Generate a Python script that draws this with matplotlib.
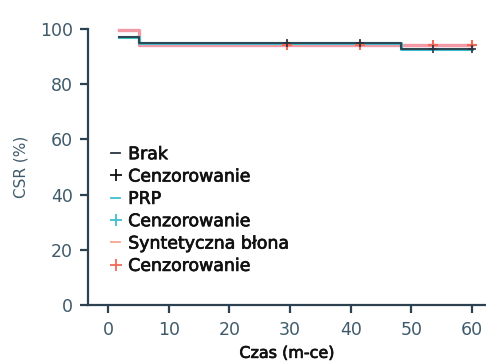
import numpy as np
import matplotlib
matplotlib.use('Agg')
import matplotlib.pyplot as plt
import matplotlib.patheffects as pe
from matplotlib.lines import Line2D

# step curves (time in months, CSR %)
brak_t = [1.8, 5.1, 48.3, 60.0]
brak_y = [97.0, 95.0, 92.8, 92.8]
prp_t = [1.8, 5.1, 48.3, 60.0]
prp_y = [97.0, 95.0, 92.8, 92.8]
syn_t = [1.8, 5.1, 60.0]
syn_y = [99.5, 94.3, 94.3]

brak_cens_t = [29.5, 41.5, 53.5, 60.0]
brak_cens_y = [95.0, 95.0, 92.8, 92.8]
syn_cens_t = [29.5, 41.5, 53.5, 60.0]
syn_cens_y = [94.3, 94.3, 94.3, 94.3]

labels = ['Brak', 'Cenzorowanie', 'PRP', 'Cenzorowanie',
          'Syntetyczna błona', 'Cenzorowanie']

axis_col = '#2d4150'
tick_col = '#3f5b6b'
black_col = '#2a3440'
teal_col = '#3fbfcf'
pink_col = '#f39aa6'
red_col = '#f26a55'


def main():
    fig = plt.figure(figsize=(4.86, 3.63), dpi=100)
    ax = fig.add_axes([0.181, 0.16, 0.819, 0.76])

    ax.step(syn_t, syn_y, where='post', color=pink_col, lw=2.4, clip_on=False)
    ax.step(prp_t, prp_y, where='post', color=teal_col, lw=2.2, clip_on=False)
    ax.step(brak_t, brak_y, where='post', color=black_col, lw=1.5, alpha=0.85,
            clip_on=False)
    ax.plot(syn_cens_t, syn_cens_y, '+', color=red_col, ms=7, mew=1.5, clip_on=False)
    ax.plot(brak_cens_t, brak_cens_y, '+', color=black_col, ms=6, mew=1.2, clip_on=False)

    ax.set_xlim(-3.3, 62.3)
    ax.set_ylim(0, 100)
    ax.set_xticks(np.arange(0, 61, 10))
    ax.set_yticks(np.arange(0, 101, 20))

    for s in ['top', 'right']:
        ax.spines[s].set_visible(False)
    for s in ['left', 'bottom']:
        ax.spines[s].set_color(axis_col)
        ax.spines[s].set_linewidth(1.6)
    ax.tick_params(colors=axis_col, labelcolor=tick_col, labelsize=12.5,
                   width=1.6, length=5.5)
    ax.tick_params(axis='y', pad=5.5)
    ax.tick_params(axis='x', pad=6)

    ax.set_ylabel('CSR (%)', color=tick_col, fontsize=11, labelpad=8)
    ax.set_xlabel('Czas (m-ce)', color='#111111', fontsize=11.5, labelpad=5,
                  path_effects=[pe.withStroke(linewidth=0.5, foreground='#111111')])

    handles = [
        Line2D([], [], color=black_col, lw=1.3),
        Line2D([], [], color='#111111', marker='+', ls='none', ms=8, mew=1.3),
        Line2D([], [], color=teal_col, lw=1.3),
        Line2D([], [], color=teal_col, marker='+', ls='none', ms=8, mew=1.3),
        Line2D([], [], color='#f7a590', lw=1.3),
        Line2D([], [], color=red_col, marker='+', ls='none', ms=8, mew=1.3),
    ]
    leg = fig.legend(handles, labels, loc='upper left',
                     bbox_to_anchor=(0.228, 0.6), frameon=False,
                     fontsize=12.5, handlelength=0.55, handletextpad=0.45,
                     labelspacing=0.25, borderpad=0, borderaxespad=0)
    for t in leg.get_texts():
        t.set_color('#111111')
        t.set_path_effects([pe.withStroke(linewidth=0.5, foreground='#111111')])

    plt.savefig('out.png', dpi=100)


if __name__ == '__main__':
    main()
